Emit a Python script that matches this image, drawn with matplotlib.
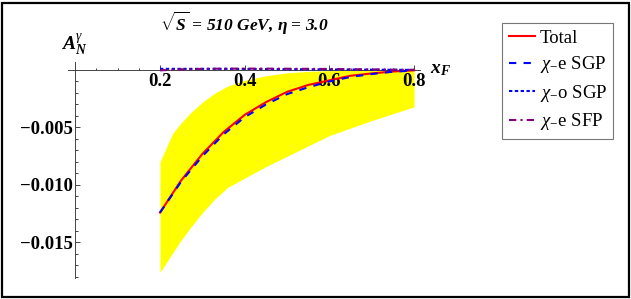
import numpy as np
import matplotlib.pyplot as plt
from matplotlib.patches import Rectangle
from matplotlib.ticker import FixedLocator, FixedFormatter

plt.rcParams['font.family'] = 'Liberation Serif'
plt.rcParams['mathtext.fontset'] = 'custom'
plt.rcParams['mathtext.rm'] = 'Liberation Serif'
plt.rcParams['mathtext.it'] = 'Liberation Serif:italic'
plt.rcParams['mathtext.bf'] = 'Liberation Serif:bold'
plt.rcParams['mathtext.bfit'] = 'Liberation Serif:italic:bold'

# data
xf = [0.20, 0.25, 0.30, 0.35, 0.40, 0.45, 0.50, 0.55, 0.60, 0.65, 0.70, 0.75, 0.80]
total = [-0.0124, -0.0096, -0.0073, -0.0054, -0.0039, -0.0028, -0.0019, -0.0013,
         -0.0009, -0.0005, -0.0003, -0.00013, -0.00003]
e_sgp = [-0.0124, -0.0097, -0.0075, -0.0056, -0.0041, -0.0030, -0.0021, -0.0015,
         -0.0010, -0.0006, -0.00035, -0.00015, -0.00004]
o_sgp = [0.0001, 0.0001, 0.0001, 0.0001, 0.00009, 0.00008, 0.00007, 0.00006,
         0.00005, 0.00004, 0.00003, 0.00002, 0.00001]
e_sfp = [-0.00003, 0.00005, 0.0001, 0.00012, 0.00012, 0.00012, 0.00011, 0.0001,
         0.00009, 0.00007, 0.00005, 0.00003, 0.00001]

band_x = [0.20, 0.23, 0.25, 0.27, 0.30, 0.33, 0.36, 0.40, 0.45, 0.50, 0.55, 0.60, 0.70, 0.80]
band_hi = [-0.0080, -0.0055, -0.0046, -0.0038, -0.0028, -0.0020, -0.0014, -0.0009,
           -0.0005, -0.00025, -0.00012, -0.00006, -0.00002, 0.0]
band_lo = [-0.0176, -0.0159, -0.0148, -0.0138, -0.0124, -0.0112, -0.0102, -0.0094,
           -0.0084, -0.0075, -0.0066, -0.0057, -0.0044, -0.0032]

xticks = [0.2, 0.4, 0.6, 0.8]
xlabels = ['0.2', '0.4', '0.6', '0.8']
yticks = [-0.015, -0.010, -0.005]
ylabels = ['\u22120.015', '\u22120.010', '\u22120.005']

W, H = 631, 299
fig = plt.figure(figsize=(W / 100, H / 100), dpi=100)
ax = fig.add_axes([40 / W, 14 / H, 420 / W, 235 / H])
ax.set_xlim(-0.08335, 0.9084)
ax.set_ylim(-0.018696, 0.001739)

ax.fill_between(band_x, band_lo, band_hi, color='#ffff00', lw=0, zorder=1)
ax.plot(xf, total, color='red', lw=1.5, label='Total', zorder=3)
ax.plot(xf, e_sgp, color='blue', lw=1.5, dashes=(3.5, 3.5), label=r'$\chi_{-}$e SGP', zorder=4)
ax.plot(xf, o_sgp, color='blue', lw=1.5, dashes=(1.6, 1.2), label=r'$\chi_{-}$o SGP', zorder=4)
ax.plot(xf, e_sfp, color='purple', lw=1.5, dashes=(3.5, 2, 1, 2), label=r'$\chi_{-}$e SFP', zorder=4)

for s in ['top', 'right']:
    ax.spines[s].set_visible(False)
ax.spines['left'].set_position(('data', 0))
ax.spines['bottom'].set_position(('data', 0))
ax.spines['bottom'].set_bounds(-0.017, 0.814)
ax.spines['left'].set_bounds(-0.0181, 0.0007)
for s in ['left', 'bottom']:
    ax.spines[s].set_color('#444444')
    ax.spines[s].set_linewidth(0.7)

ax.xaxis.set_major_locator(FixedLocator(xticks))
ax.xaxis.set_major_formatter(FixedFormatter(xlabels))
ax.xaxis.set_minor_locator(FixedLocator(np.arange(0.05, 0.81, 0.05)))
ax.yaxis.set_major_locator(FixedLocator(yticks))
ax.yaxis.set_major_formatter(FixedFormatter(ylabels))
ax.yaxis.set_minor_locator(FixedLocator(np.arange(-0.018, 0.0001, 0.001)))
ax.tick_params(which='both', direction='in', color='#444444', width=0.7)
ax.tick_params(which='major', length=3.6, labelsize=13.5, pad=2)
ax.tick_params(which='minor', length=1.8)
for t in ax.get_xticklabels() + ax.get_yticklabels():
    t.set_fontweight('bold')

fig.text(244 / W, 1 - 23 / H, r'$\sqrt{\mathbfit{S}}$ = 510 GeV, $\mathbfit{\eta}$ = 3.0',
         ha='center', va='center', fontsize=12.5, fontweight='bold', fontstyle='italic')
fig.text(74 / W, 1 - 45 / H, r'$\mathbfit{A}_{\mathbfit{N}}^{\gamma}$', ha='center', va='center',
         fontsize=14)
fig.text(441 / W, 1 - 69 / H, r'$\mathbfit{x}_{\mathbfit{F}}$', ha='center', va='center', fontsize=14)

leg = ax.legend(loc='upper left', bbox_to_anchor=(502 / W, 1 - 23 / H),
                bbox_transform=fig.transFigure, borderaxespad=0, fontsize=13.5,
                frameon=True, fancybox=False, handlelength=1.4, handletextpad=0.25,
                labelspacing=0.4, borderpad=0.35)
leg.get_frame().set_edgecolor('#555555')
leg.get_frame().set_linewidth(0.8)

fig.patches.append(Rectangle((1.5 / W, 2.5 / H), 627 / W, 294 / H, transform=fig.transFigure,
                             fill=False, edgecolor='black', lw=1.6))

fig.savefig('out.png', dpi=100)
